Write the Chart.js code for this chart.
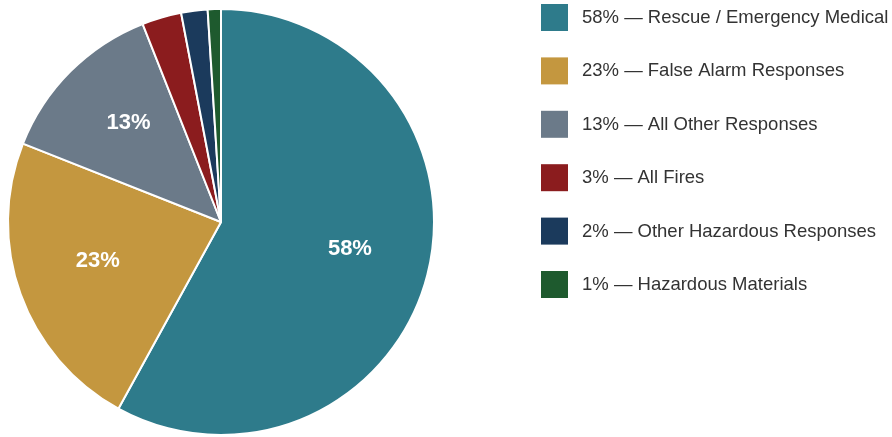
<!DOCTYPE html>
<html>
<head>
<meta charset="utf-8">
<script src="https://cdn.jsdelivr.net/npm/chart.js@4"></script>
<style>
	html, body { margin: 0; padding: 0; background: #fff; }
	#wrap { position: relative; width: 892px; height: 437px; }
</style>
</head>
<body>
<div id="wrap"><canvas id="pie"></canvas></div>
<script>
const categories = [
	"Rescue / Emergency Medical",
	"False Alarm Responses",
	"All Other Responses",
	"All Fires",
	"Other Hazardous Responses",
	"Hazardous Materials",
];
const shares = [58, 23, 13, 3, 2, 1];
const colors = ["#2e7b8b", "#c4973f", "#6b7a89", "#8b1c1e", "#1b3a5c", "#1e5a2e"];

// slices smaller than this get no label inside the pie
const minLabel = 10;

const sliceLabels = {
	id: "sliceLabels",
	afterDatasetsDraw(chart) {
		const ctx = chart.ctx;
		const meta = chart.getDatasetMeta(0);
		ctx.save();
		ctx.fillStyle = "#ffffff";
		ctx.font = "bold 22px 'Liberation Sans', Arial, sans-serif";
		ctx.textAlign = "center";
		ctx.textBaseline = "middle";
		meta.data.forEach((arc, i) => {
			if (shares[i] < minLabel) return;
			const mid = (arc.startAngle + arc.endAngle) / 2;
			const r = arc.outerRadius * 0.62;
			ctx.fillText(shares[i] + "%", arc.x + Math.cos(mid) * r + 1, arc.y + Math.sin(mid) * r - 6);
		});
		ctx.restore();
	},
};

const sideLegend = {
	id: "sideLegend",
	afterDraw(chart) {
		const ctx = chart.ctx;
		const x = 541, y0 = 4, box = 27, step = 53.4;
		ctx.save();
		ctx.font = "18.5px 'Liberation Sans', Arial, sans-serif";
		ctx.textBaseline = "middle";
		ctx.textAlign = "left";
		categories.forEach((name, i) => {
			const y = y0 + i * step;
			ctx.fillStyle = colors[i];
			ctx.fillRect(x, y, box, box);
			ctx.fillStyle = "#333333";
			ctx.fillText(shares[i] + "% \u2014 " + name, x + 41, y + box / 2 + 0.5);
		});
		ctx.restore();
	},
};

new Chart(document.getElementById("pie"), {
	type: "pie",
	data: {
		labels: categories,
		datasets: [
			{
				data: shares,
				backgroundColor: colors,
				borderColor: "#ffffff",
				borderWidth: 2,
			},
		],
	},
	options: {
		responsive: true,
		maintainAspectRatio: false,
		animation: false,
		layout: { padding: { left: 7, right: 457, top: 8, bottom: 1 } },
		plugins: {
			legend: { display: false },
			tooltip: { enabled: false },
		},
	},
	plugins: [sliceLabels, sideLegend],
});
</script>
</body>
</html>
